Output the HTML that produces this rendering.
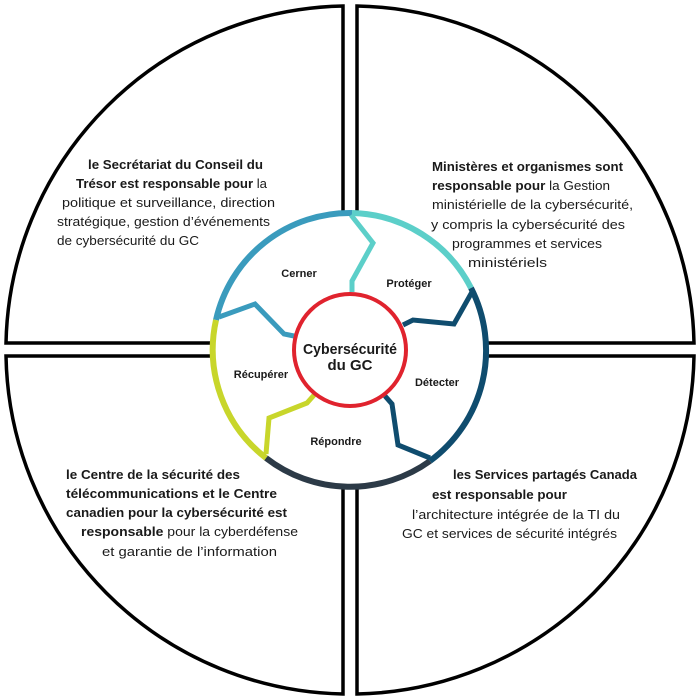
<!DOCTYPE html>
<html><head><meta charset="utf-8"><style>
html,body{margin:0;padding:0;background:#fff;}
svg{display:block;}
text{font-family:"Liberation Sans",Arial,sans-serif;font-size:13px;fill:#1a1a1a;}
.b{font-weight:bold;}
.lab{font-size:11px;font-weight:bold;}
</style></head><body>
<svg width="700" height="700" viewBox="0 0 700 700" xmlns="http://www.w3.org/2000/svg">
<g fill="#fff" stroke="#000" stroke-width="3.5" stroke-linejoin="miter">
<path d="M343,6 L343,343 L6,343 A344,344 0 0 1 343,6 Z"/>
<path d="M357,6 L357,343 L694,343 A344,344 0 0 0 357,6 Z"/>
<path d="M343,694 L343,356 L6,356 A344,344 0 0 0 343,694 Z"/>
<path d="M357,694 L357,356 L694,356 A344,344 0 0 1 357,694 Z"/>
</g>
<circle cx="350" cy="350" r="137" fill="#fff"/>
<g fill="none" stroke-width="6" stroke-linejoin="miter">
<path d="M216,320 A137,137 0 0 1 352,213" stroke="#3a9bbd"/>
<path d="M352,213 A137,137 0 0 1 471,288" stroke="#5ccfc9"/>
<path d="M471,288 A137,137 0 0 1 430,461" stroke="#0f4c6e"/>
<path d="M430,461 A137,137 0 0 1 266,458" stroke="#2c3a47"/>
<path d="M266,458 A137,137 0 0 1 216,320" stroke="#c8d62b"/>
</g>
<g fill="none" stroke-width="5" stroke-linejoin="miter">
<path d="M219,317 L255,304 L284,334 L294,336" stroke="#3a9bbd"/>
<path d="M351,215 L373,243 L352,281 L352,292" stroke="#5ccfc9"/>
<path d="M472,292 L454,324 L413,320 L403,325" stroke="#0f4c6e"/>
<path d="M430,458 L398,445 L392,404 L385,396" stroke="#0f4c6e"/>
<path d="M266,454 L269,418 L307,403 L315,394" stroke="#c8d62b"/>
</g>
<circle cx="350" cy="350" r="56" fill="#fff" stroke="#e0232e" stroke-width="4"/>
<text x="350" y="354" text-anchor="middle" class="b" style="font-size:15px" textLength="94" lengthAdjust="spacingAndGlyphs">Cybersécurité</text>
<text x="350" y="370" text-anchor="middle" class="b" style="font-size:15px">du GC</text>
<text x="299" y="277" text-anchor="middle" class="lab">Cerner</text>
<text x="409" y="287" text-anchor="middle" class="lab">Protéger</text>
<text x="437" y="386" text-anchor="middle" class="lab">Détecter</text>
<text x="336" y="445" text-anchor="middle" class="lab">Répondre</text>
<text x="261" y="378" text-anchor="middle" class="lab">Récupérer</text>
<text x="88" y="169" textLength="175" lengthAdjust="spacingAndGlyphs" class="b">le Secrétariat du Conseil du</text>
<text x="76" y="188" textLength="191" lengthAdjust="spacingAndGlyphs"><tspan class="b">Trésor est responsable pour</tspan> la</text>
<text x="62" y="207" textLength="213" lengthAdjust="spacingAndGlyphs">politique et surveillance, direction</text>
<text x="57" y="226" textLength="213" lengthAdjust="spacingAndGlyphs">stratégique, gestion d’événements</text>
<text x="57" y="245" textLength="142" lengthAdjust="spacingAndGlyphs">de cybersécurité du GC</text>
<text x="432" y="171" textLength="191" lengthAdjust="spacingAndGlyphs" class="b">Ministères et organismes sont</text>
<text x="432" y="190" textLength="178" lengthAdjust="spacingAndGlyphs"><tspan class="b">responsable pour</tspan> la Gestion</text>
<text x="432" y="209" textLength="201" lengthAdjust="spacingAndGlyphs">ministérielle de la cybersécurité,</text>
<text x="431" y="229" textLength="194" lengthAdjust="spacingAndGlyphs">y compris la cybersécurité des</text>
<text x="452" y="248" textLength="150" lengthAdjust="spacingAndGlyphs">programmes et services</text>
<text x="468" y="267" textLength="79" lengthAdjust="spacingAndGlyphs">ministériels</text>
<text x="66" y="479" textLength="174" lengthAdjust="spacingAndGlyphs" class="b">le Centre de la sécurité des</text>
<text x="66" y="498" textLength="211" lengthAdjust="spacingAndGlyphs" class="b">télécommunications et le Centre</text>
<text x="66" y="517" textLength="221" lengthAdjust="spacingAndGlyphs" class="b">canadien pour la cybersécurité est</text>
<text x="81" y="536" textLength="217" lengthAdjust="spacingAndGlyphs"><tspan class="b">responsable</tspan> pour la cyberdéfense</text>
<text x="102" y="556" textLength="175" lengthAdjust="spacingAndGlyphs">et garantie de l’information</text>
<text x="453" y="479" textLength="184" lengthAdjust="spacingAndGlyphs" class="b">les Services partagés Canada</text>
<text x="432" y="499" textLength="135" lengthAdjust="spacingAndGlyphs" class="b">est responsable pour</text>
<text x="412" y="519" textLength="208" lengthAdjust="spacingAndGlyphs">l’architecture intégrée de la TI du</text>
<text x="402" y="538" textLength="215" lengthAdjust="spacingAndGlyphs">GC et services de sécurité intégrés</text>
</svg>
</body></html>
